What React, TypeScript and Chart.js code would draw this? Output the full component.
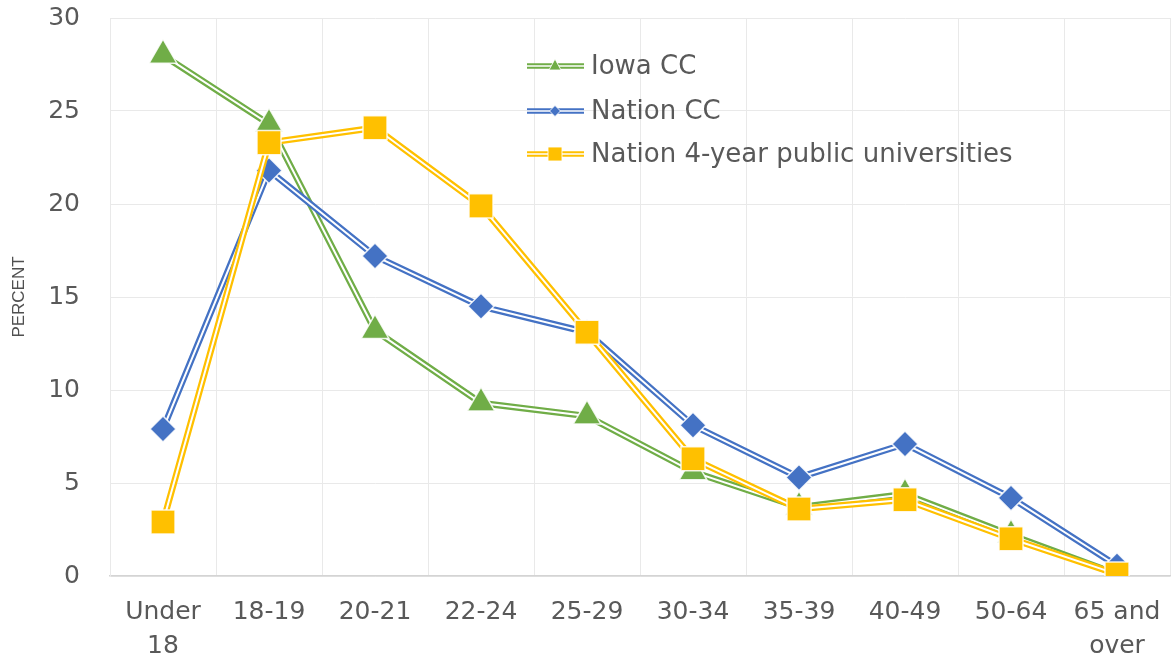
import React, { useEffect, useRef } from 'react';
import { Chart, registerables } from 'chart.js';

Chart.register(...registerables);

const categories: (string | string[])[] = [
  ['Under', '18'], '18-19', '20-21', '22-24', '25-29', '30-34', '35-39', '40-49', '50-64', ['65 and', 'over'],
];
const iowaCC = [28.0, 24.3, 13.2, 9.3, 8.6, 5.6, 3.7, 4.4, 2.2, 0.1];
const nationCC = [7.9, 21.8, 17.2, 14.5, 13.1, 8.1, 5.3, 7.1, 4.2, 0.55];
const nation4yr = [2.9, 23.3, 24.1, 19.9, 13.1, 6.3, 3.6, 4.1, 2.0, 0.1];
const seriesNames = ['Iowa CC', 'Nation CC', 'Nation 4-year public universities'];
const seriesColors = ['#70AD47', '#4472C4', '#FFC000'];
const seriesMarkers = ['triangle', 'rectRot', 'rect'];
const yMin = 0;
const yMax = 30;
const yStep = 5;

const TEXT = '#595959';
const FONT = "'DejaVu Sans', 'Open Sans', sans-serif";

function makeSeries(idx: number, data: number[], radius: number, baseOrder: number) {
  const color = seriesColors[idx];
  const label = seriesNames[idx];
  return [
    {
      label, data, borderColor: color, backgroundColor: color, borderWidth: 6.5,
      pointRadius: 0, pointHoverRadius: 0, tension: 0, fill: false, order: baseOrder + 2,
    },
    {
      label: label + ' inner', data, borderColor: '#ffffff', borderWidth: 2,
      pointRadius: 0, pointHoverRadius: 0, tension: 0, fill: false, order: baseOrder + 1,
    },
    {
      label: label + ' markers', data, showLine: false, pointStyle: seriesMarkers[idx],
      pointRadius: radius, pointHoverRadius: radius, pointBackgroundColor: color,
      pointBorderColor: 'rgba(255,255,255,0.85)', pointBorderWidth: 1.5, order: baseOrder,
    },
  ];
}

const legendPlugin = {
  id: 'customLegend',
  afterDraw(chart: any) {
    const ctx = chart.ctx as CanvasRenderingContext2D;
    const rows = [66, 111, 154];
    const x0 = 527, x1 = 584, mx = 555, tx = 591;
    ctx.save();
    seriesNames.forEach((name, i) => {
      const y = rows[i];
      const color = seriesColors[i];
      ctx.lineCap = 'butt';
      ctx.strokeStyle = color;
      ctx.lineWidth = 5.5;
      ctx.beginPath(); ctx.moveTo(x0, y); ctx.lineTo(x1, y); ctx.stroke();
      ctx.strokeStyle = '#ffffff';
      ctx.lineWidth = 1.6;
      ctx.beginPath(); ctx.moveTo(x0, y); ctx.lineTo(x1, y); ctx.stroke();
      ctx.fillStyle = color;
      ctx.strokeStyle = 'rgba(255,255,255,0.85)';
      ctx.lineWidth = 1;
      ctx.beginPath();
      if (i === 0) {
        ctx.moveTo(mx, y - 7); ctx.lineTo(mx + 6, y + 4); ctx.lineTo(mx - 6, y + 4); ctx.closePath();
      } else if (i === 1) {
        ctx.moveTo(mx, y - 5.5); ctx.lineTo(mx + 5.5, y); ctx.lineTo(mx, y + 5.5); ctx.lineTo(mx - 5.5, y); ctx.closePath();
      } else {
        ctx.rect(mx - 7, y - 7, 14, 14);
      }
      ctx.fill(); ctx.stroke();
      ctx.fillStyle = TEXT;
      ctx.font = `26px ${FONT}`;
      ctx.textAlign = 'left';
      ctx.textBaseline = 'middle';
      ctx.fillText(name, tx, y + 1);
    });
    ctx.restore();
  },
};

export default function App() {
  const ref = useRef<HTMLCanvasElement | null>(null);
  useEffect(() => {
    document.body.style.margin = '0';
    const canvas = ref.current;
    if (!canvas) return;
    const datasets = [
      ...makeSeries(2, nation4yr, 17, 1),
      ...makeSeries(1, nationCC, 13, 4),
      ...makeSeries(0, iowaCC, 16, 7),
    ];
    const chart = new Chart(canvas, {
      type: 'line',
      data: { labels: categories as any, datasets: datasets as any },
      options: {
        animation: false,
        responsive: false,
        maintainAspectRatio: false,
        layout: { autoPadding: false, padding: { top: 18, right: 2, bottom: 0, left: 0 } },
        plugins: { legend: { display: false }, tooltip: { enabled: false } },
        elements: { line: { tension: 0 } },
        scales: {
          x: {
            type: 'category',
            offset: true,
            grid: { offset: true, color: '#e9e9e9', lineWidth: 1, drawTicks: true, tickLength: 19, tickColor: 'rgba(0,0,0,0)' },
            border: { display: true, color: '#d4d4d4', width: 1.5 },
            ticks: {
              color: TEXT, font: { family: FONT, size: 25, lineHeight: 1.38 }, padding: 0,
              maxRotation: 0, autoSkip: false,
            },
            afterFit: (scale: any) => { scale.height = 84; scale.paddingRight = 0; },
          },
          y: {
            min: yMin, max: yMax,
            grid: { color: '#e9e9e9', lineWidth: 1, drawTicks: true, tickLength: 27, tickColor: 'rgba(0,0,0,0)' },
            border: { display: true, color: '#e9e9e9' },
            ticks: { stepSize: yStep, color: TEXT, font: { family: FONT, size: 25 }, padding: 3 },
            title: {
              display: true, text: 'PERCENT', color: '#505050',
              font: { family: "'Liberation Sans', Arial, sans-serif", size: 17 },
              padding: { top: 9, bottom: 10 },
            },
            afterFit: (scale: any) => { scale.width = 110; },
          },
        },
      },
      plugins: [legendPlugin],
    });
    return () => chart.destroy();
  }, []);
  return (
    <div style={{ width: 1172, height: 660, background: '#ffffff' }}>
      <canvas ref={ref} width={1172} height={660} style={{ display: 'block' }} />
    </div>
  );
}
